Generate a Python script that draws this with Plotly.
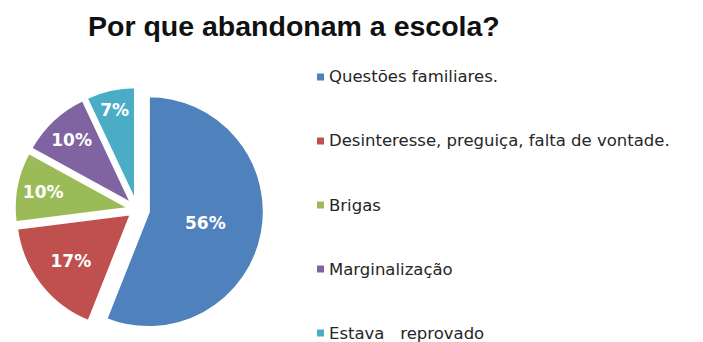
import plotly.graph_objects as go

# Reasons for leaving school (percent of answers)
categorias = [
    "Questões familiares.",
    "Desinteresse, preguiça, falta de vontade.",
    "Brigas",
    "Marginalização",
    "Estava   reprovado",
]
valores = [56, 17, 10, 10, 7]
cores = ["#4F81BD", "#C0504D", "#9BBB59", "#8064A2", "#4BACC6"]
destaque = [0.10, 0.06, 0.06, 0.06, 0.06]

W, H = 703, 342

fig = go.Figure()
fig.add_trace(go.Pie(
    labels=categorias,
    values=valores,
    marker=dict(colors=cores, line=dict(color="white", width=3)),
    pull=destaque,
    sort=False,
    direction="clockwise",
    rotation=0,
    textinfo="percent",
    texttemplate="%{percent:.0%}",
    textposition="inside",
    insidetextorientation="horizontal",
    insidetextfont=dict(family="DejaVu Sans", size=17, color="white", weight="bold"),
    showlegend=False,
    hoverinfo="label+percent",
    domain=dict(x=[8 / W, 266 / W], y=[5 / H, 260 / H]),
))

# Legend drawn as coloured squares with labels on the right
leg_x = 317
leg_y0 = 77
leg_step = 64
shapes = []
annotations = []
for i, (rotulo, cor) in enumerate(zip(categorias, cores)):
    yc = leg_y0 + i * leg_step
    shapes.append(dict(
        type="rect", xref="paper", yref="paper",
        x0=leg_x / W, x1=(leg_x + 7) / W,
        y0=1 - (yc + 3.5) / H, y1=1 - (yc - 3.5) / H,
        fillcolor=cor, line=dict(width=0),
    ))
    annotations.append(dict(
        text=rotulo, xref="paper", yref="paper",
        x=(leg_x + 10) / W, y=1 - yc / H,
        xanchor="left", yanchor="middle", showarrow=False,
        font=dict(family="DejaVu Sans", size=16.5, color="#262626"),
    ))

annotations.append(dict(
    text="<b>Por que abandonam a escola?</b>", xref="paper", yref="paper",
    x=294 / W, y=1 - 26 / H, xanchor="center", yanchor="middle", showarrow=False,
    font=dict(family="Liberation Sans", size=28.5, color="#111111"),
))

fig.update_layout(
    width=W, height=H,
    margin=dict(l=0, r=0, t=0, b=0),
    paper_bgcolor="white", plot_bgcolor="white",
    shapes=shapes, annotations=annotations,
)

fig.write_html("out.html")
